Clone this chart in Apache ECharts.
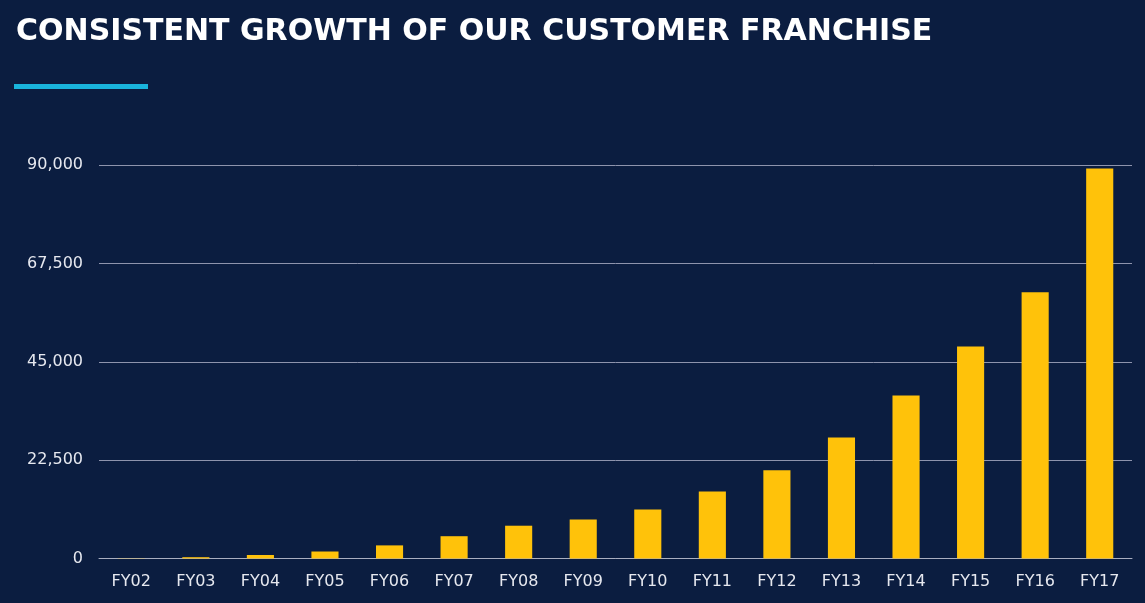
<!DOCTYPE html>
<html>
<head>
<meta charset="utf-8">
<script src="https://cdn.jsdelivr.net/npm/echarts@6/dist/echarts.min.js"></script>
<style>
html,body{margin:0;padding:0;background:#0b1d40;}
#chart{width:1145px;height:603px;}
</style>
</head>
<body>
<div id="chart"></div>
<script>
const titleText = 'CONSISTENT GROWTH OF OUR CUSTOMER FRANCHISE';
const categories = ['FY02','FY03','FY04','FY05','FY06','FY07','FY08','FY09','FY10','FY11','FY12','FY13','FY14','FY15','FY16','FY17'];
const customers = [50, 300, 800, 1600, 3000, 5100, 7500, 8900, 11200, 15300, 20200, 27700, 37300, 48500, 60900, 89200];
const yMin = 0, yMax = 90000, yStep = 22500;

const chart = echarts.init(document.getElementById('chart'));
chart.setOption({
  backgroundColor: '#0b1d40',
  animation: false,
  title: {
    text: titleText,
    left: 11, top: 12,
    textStyle: { color: '#ffffff', fontFamily: 'DejaVu Sans', fontWeight: 'bold', fontSize: 30 }
  },
  graphic: [{
    type: 'rect', left: 14, top: 84,
    shape: { width: 134, height: 5 },
    style: { fill: '#19b4dc' }
  }],
  grid: { left: 99, right: 13, top: 165, bottom: 44.5 },
  xAxis: {
    type: 'category',
    data: categories,
    axisTick: { show: false },
    axisLine: { lineStyle: { color: '#a9aec0', width: 1 } },
    axisLabel: { color: '#e6e8ef', fontFamily: 'DejaVu Sans', fontSize: 16, margin: 15 }
  },
  yAxis: {
    type: 'value',
    min: yMin, max: yMax, interval: yStep,
    axisLine: { show: false },
    axisTick: { show: false },
    splitLine: { lineStyle: { color: '#8e94ad', width: 1 } },
    axisLabel: {
      color: '#e6e8ef', fontFamily: 'DejaVu Sans', fontSize: 16, margin: 16,
      formatter: v => v.toLocaleString('en-US')
    }
  },
  series: [{
    type: 'bar',
    data: customers,
    barWidth: '42%',
    itemStyle: { color: '#ffc20a' }
  }]
});
</script>
</body>
</html>
